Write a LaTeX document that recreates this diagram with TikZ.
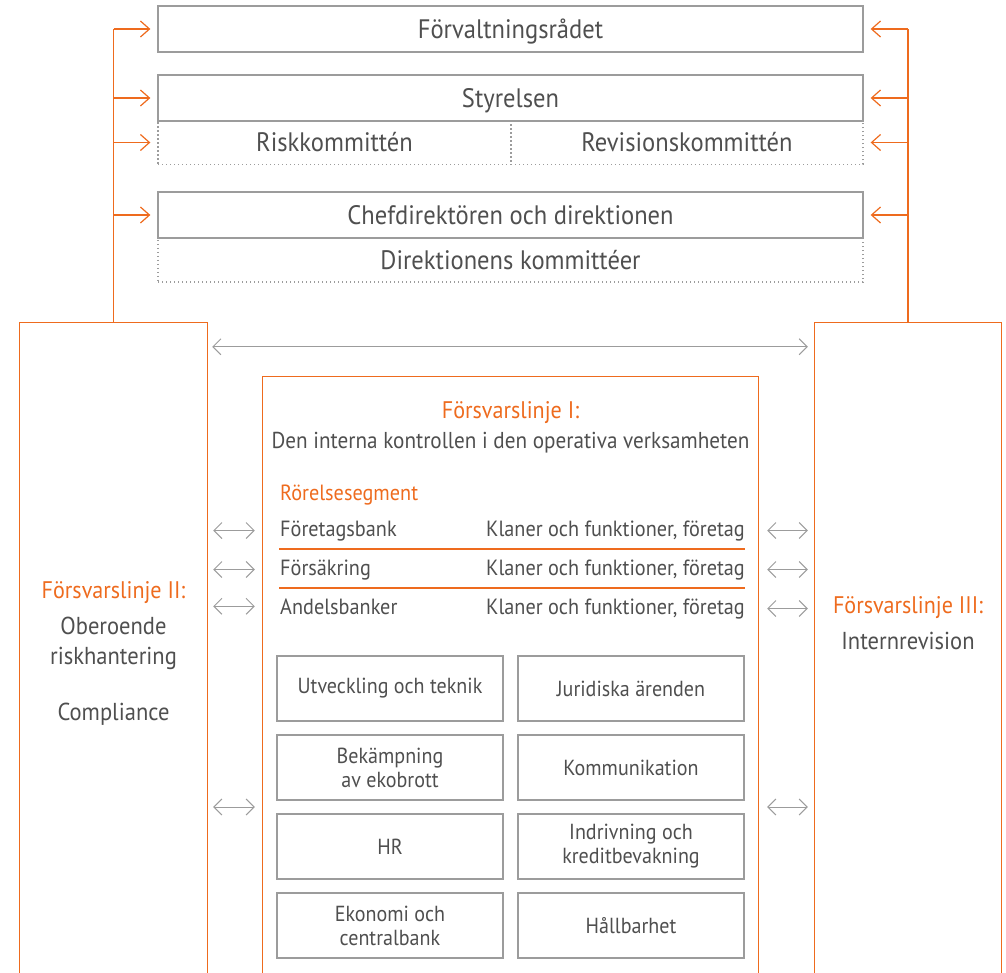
\documentclass[tikz,border=0pt]{standalone}
\usepackage{fontspec}
\setmainfont[FakeStretch=0.92]{PT Sans}
\usetikzlibrary{arrows.meta,calc}
\definecolor{fkorange}{HTML}{EE6B1E}
\definecolor{fktext}{HTML}{4F4F4F}
\definecolor{fkline}{HTML}{9C9C9C}

\begin{document}
\begin{tikzpicture}[x=1pt,y=-1pt,
    govbox/.style={draw=fkline,line width=1.3pt,minimum width=705pt,minimum height=46pt,
      inner sep=0pt,text height=19pt,text depth=0pt,text=fktext,font=\fontsize{26.7}{30}\selectfont},
    combox/.style={draw=fkline,line width=1.3pt,dash pattern=on 1.3pt off 2.7pt,
      minimum height=44pt,inner sep=0pt,text height=19pt,text depth=0pt,text=fktext,
      font=\fontsize{26.7}{30}\selectfont},
    panel/.style={minimum width=#1,inner sep=0pt},
    unitbox/.style={draw=fkline,line width=1.2pt,minimum width=226pt,minimum height=65pt,
      inner sep=0pt,align=center,text=fktext,font=\fontsize{21.8}{24}\selectfont},
    oline/.style={draw=fkorange,line width=1.2pt},
    oarrow/.style={fkorange,line width=1.2pt,-{Straight Barb[length=9pt,width=16pt]}},
    garrow/.style={fkline,line width=1pt,
      {Straight Barb[length=8pt,width=16pt]}-{Straight Barb[length=8pt,width=16pt]}},
    head/.style={text=fkorange,font=\fontsize{24}{28}\selectfont,inner sep=0pt},
    body/.style={text=fktext,font=\fontsize{24.5}{28}\selectfont,inner sep=0pt},
    row/.style={text=fktext,font=\fontsize{22}{26}\selectfont,inner sep=0pt}
  ]
  \useasboundingbox (0,0) rectangle (1006,973);

  % governing bodies
  \node[combox,minimum width=353pt] (risk) at (334.5,142.5) {Riskkommittén};
  \node[combox,minimum width=352pt] (revi) at (687,142.5) {Revisionskommittén};
  \node[combox,minimum width=705pt] (dkom) at (510.5,260) {Direktionens kommittéer};
  \node[govbox] (forv) at (510.5,29) {Förvaltningsrådet};
  \node[govbox] (styr) at (510.5,98) {Styrelsen};
  \node[govbox] (chef) at (510.5,215) {Chefdirektören och direktionen};

  % lines of defence
  \node[panel=187pt,minimum height=650pt] (lin2) at (113.5,648) {};
  \node[panel=495pt,minimum height=596pt] (lin1) at (510.5,675) {};
  \node[panel=186pt,minimum height=650pt] (lin3) at (908,648) {};
  \draw[oline] (lin2.south west) |- (lin2.north east) -- (lin2.south east);
  \draw[oline] (lin1.south west) |- (lin1.north east) -- (lin1.south east);
  \draw[oline] (lin3.south west) |- (lin3.north east) -- (lin3.south east);

  \draw[oline] (lin2.north) -- (lin2.north |- forv.west);
  \draw[oline] (lin3.north) -- (lin3.north |- forv.east);
  \foreach \b in {forv,styr,risk,chef}
    \draw[oarrow,shorten >=7pt] (lin2.north |- \b.west) -- (\b.west);
  \foreach \b in {forv,styr,revi,chef}
    \draw[oarrow,shorten >=7pt] (lin3.north |- \b.east) -- (\b.east);

  \draw[garrow,shorten <=5pt,shorten >=7pt] ([yshift=-24pt]lin2.north east) -- ([yshift=-24pt]lin3.north west);

  \node[head,anchor=base] (l2head) at (113.5,598) {Försvarslinje II:};
  \node[body,anchor=base] (l2obe) at (113.5,634) {Oberoende};
  \node[body,anchor=base] (l2risk) at (113.5,664) {riskhantering};
  \node[body,anchor=base] (l2comp) at (113.5,720) {Compliance};
  \node[head,anchor=base] (l3head) at (908,613) {Försvarslinje III:};
  \node[body,anchor=base] (l3body) at (908,649) {Internrevision};

  \node[head,anchor=base] (l1head) at (510.5,418) {Försvarslinje I:};
  \node[body,font=\fontsize{23}{27}\selectfont,anchor=base] (l1body) at (510.5,448) {Den interna kontrollen i den operativa verksamheten};

  % business segments
  \node[row,text=fkorange,anchor=base west] (seg) at (280,500) {Rörelsesegment};
  \foreach \n/\t/\y in {fb/Företagsbank/536,fs/Försäkring/575,ab/Andelsbanker/614} {
    \node[row,anchor=base west] (\n) at (280,\y) {\t};
    \node[row,anchor=base east] (\n-k) at (745,\y) {Klaner och funktioner, företag};
    \draw[garrow,shorten <=6pt,shorten >=8pt] (lin2.east |- \n.west) -- (lin1.west |- \n.west);
    \draw[garrow,shorten <=9pt,shorten >=7pt] (lin1.east |- \n-k.east) -- (lin3.west |- \n-k.east);
  }
  \draw[oline] (279,549) -- (745,549);
  \draw[oline] (279,588) -- (745,588);

  % group functions
  \node[unitbox] (utv) at (390,688.5) {Utveckling och teknik};
  \node[unitbox] (jur) at (631,688.5) {Juridiska ärenden};
  \node[unitbox] (bek) at (390,767.5) {Bekämpning\\av ekobrott};
  \node[unitbox] (kom) at (631,767.5) {Kommunikation};
  \node[unitbox] (hr)  at (390,846.5) {HR};
  \node[unitbox] (ind) at (631,846.5) {Indrivning och\\kreditbevakning};
  \node[unitbox] (eko) at (390,925.5) {Ekonomi och\\centralbank};
  \node[unitbox] (hal) at (631,925.5) {Hållbarhet};

  \coordinate (fmid) at ($(bek.south)!.5!(hr.north)$);
  \draw[garrow,shorten <=6pt,shorten >=8pt] (lin2.east |- fmid) -- (lin1.west |- fmid);
  \draw[garrow,shorten <=9pt,shorten >=7pt] (lin1.east |- fmid) -- (lin3.west |- fmid);
\end{tikzpicture}
\end{document}
